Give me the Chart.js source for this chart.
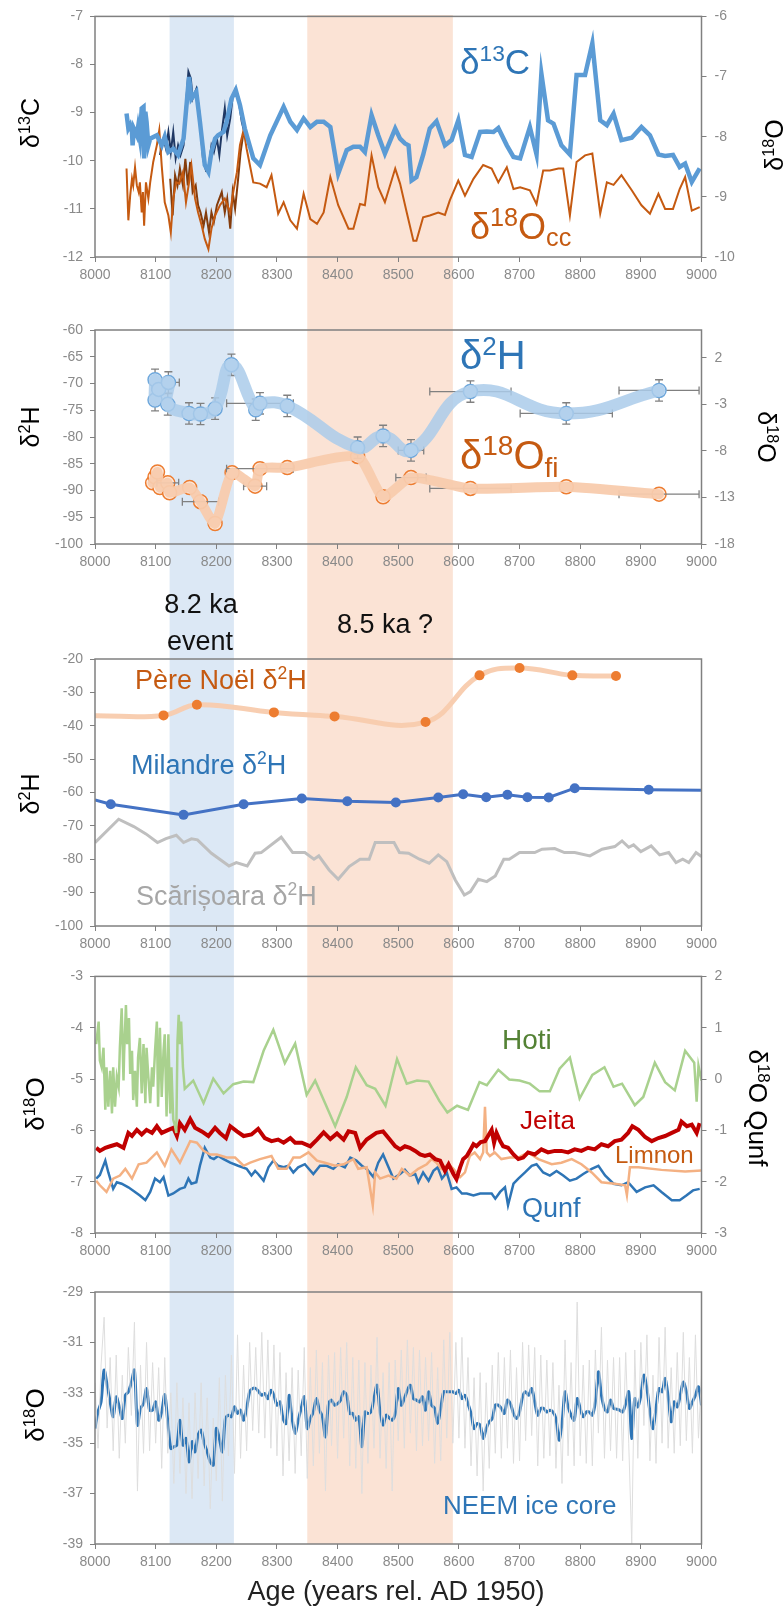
<!DOCTYPE html>
<html>
<head>
<meta charset="utf-8">
<script src="https://cdn.jsdelivr.net/npm/chart.js@4.4.0/dist/chart.umd.min.js"></script>
<style>
  body { margin: 0; background: #fff; }
  #wrap { position: relative; width: 783px; height: 1609px; }
  #wrap canvas { position: absolute; left: 0; }
</style>
</head>
<body>
<div id="wrap">
  <canvas id="c1" width="783" height="290" style="top:0px"></canvas>
  <canvas id="c2" width="783" height="290" style="top:290px"></canvas>
  <canvas id="c3" width="783" height="380" style="top:580px"></canvas>
  <canvas id="c4" width="783" height="310" style="top:960px"></canvas>
  <canvas id="c5" width="783" height="339" style="top:1270px"></canvas>
</div>
<script>
// Bandes 8.2 ka et 8.5 ka
const blueBand = [8123, 8229];
const orangeBand = [8350, 8590];

// Panneau 1 : δ13C et δ18O calcite
const c13Years = [8052, 8055, 8058, 8061, 8062, 8064, 8069, 8071, 8074, 8077, 8080, 8081, 8083, 8085, 8088, 8091, 8102, 8110, 8115, 8121, 8129, 8137, 8146, 8155, 8159, 8167, 8173, 8181, 8187, 8192, 8198, 8203, 8212, 8217, 8225, 8232, 8239, 8247, 8261, 8272, 8289, 8311, 8322, 8333, 8344, 8355, 8366, 8377, 8388, 8401, 8415, 8426, 8437, 8445, 8456, 8467, 8478, 8495, 8503, 8511, 8517, 8522, 8530, 8541, 8552, 8563, 8577, 8588, 8599, 8610, 8621, 8635, 8646, 8657, 8665, 8679, 8690, 8701, 8717, 8728, 8736, 8747, 8756, 8769, 8783, 8794, 8808, 8820, 8833, 8844, 8855, 8868, 8885, 8901, 8915, 8929, 8940, 8953, 8964, 8973, 8984, 8997];
const c13Vals = [-9.02, -9.33, -9.26, -9.40, -9.68, -9.33, -9.47, -9.30, -9.54, -8.91, -8.88, -9.95, -8.98, -9.19, -9.68, -9.54, -9.47, -9.68, -9.50, -9.82, -9.75, -9.88, -9.54, -8.26, -8.71, -8.57, -9.19, -10.09, -10.23, -9.82, -9.54, -9.47, -9.40, -9.19, -8.71, -8.53, -8.84, -9.33, -9.95, -10.09, -9.47, -8.88, -9.19, -9.36, -9.12, -9.30, -9.19, -9.19, -9.30, -10.27, -9.78, -9.71, -9.71, -9.82, -9.05, -9.47, -9.85, -9.33, -9.54, -9.64, -9.68, -10.41, -10.34, -9.88, -9.33, -9.18, -9.68, -9.57, -9.16, -9.88, -9.92, -9.40, -9.39, -9.40, -9.32, -9.68, -9.92, -9.95, -9.30, -9.87, -8.19, -9.16, -9.23, -9.68, -9.87, -8.22, -8.22, -7.56, -9.16, -9.26, -9.02, -9.57, -9.52, -9.30, -9.47, -9.87, -9.90, -9.88, -10.13, -10.06, -10.44, -10.16];

const c13HiYears = [8107, 8113, 8117, 8121, 8125, 8129, 8133, 8137, 8141, 8146, 8150, 8154, 8158, 8161, 8167, 8172, 8178, 8183, 8187, 8192, 8196, 8201, 8205, 8209, 8214, 8218, 8223, 8227, 8231, 8236, 8242, 8246];
const c13HiVals = [-9.88, -9.54, -9.75, -9.40, -9.82, -9.40, -9.95, -9.68, -9.88, -9.68, -8.84, -8.15, -8.29, -8.71, -8.51, -8.98, -9.95, -10.20, -10.16, -9.68, -9.82, -9.54, -9.88, -9.40, -8.91, -9.47, -9.12, -8.67, -8.53, -8.67, -9.19, -9.40];

const o18ccYears = [8052, 8055, 8058, 8061, 8063, 8066, 8069, 8072, 8074, 8077, 8079, 8081, 8084, 8088, 8091, 8096, 8102, 8106, 8110, 8115, 8121, 8125, 8129, 8134, 8139, 8145, 8150, 8156, 8159, 8165, 8170, 8176, 8181, 8187, 8192, 8198, 8206, 8214, 8223, 8228, 8234, 8239, 8245, 8250, 8261, 8272, 8283, 8291, 8302, 8311, 8322, 8333, 8344, 8355, 8366, 8377, 8388, 8401, 8418, 8426, 8437, 8445, 8456, 8467, 8478, 8495, 8503, 8514, 8525, 8530, 8541, 8552, 8566, 8577, 8585, 8599, 8610, 8624, 8640, 8654, 8665, 8679, 8690, 8701, 8717, 8728, 8739, 8750, 8764, 8772, 8783, 8794, 8808, 8820, 8833, 8844, 8855, 8868, 8885, 8901, 8915, 8929, 8940, 8953, 8964, 8973, 8984, 8997];
const o18ccVals = [-8.53, -9.39, -8.98, -8.70, -8.81, -8.51, -8.81, -8.92, -8.76, -9.26, -8.92, -9.48, -8.76, -9.03, -8.76, -8.42, -8.14, -7.89, -8.48, -9.09, -9.31, -9.59, -9.03, -8.76, -8.78, -8.59, -9.09, -8.70, -8.48, -9.03, -9.26, -9.48, -9.70, -9.87, -9.53, -9.31, -9.14, -9.03, -9.26, -8.92, -8.59, -8.14, -7.89, -8.20, -8.76, -8.78, -8.84, -8.64, -9.28, -9.09, -9.39, -9.53, -8.95, -9.37, -9.45, -9.26, -8.67, -9.14, -9.53, -9.53, -9.12, -9.14, -8.31, -8.84, -9.09, -8.53, -8.78, -9.26, -9.73, -9.73, -9.34, -9.31, -9.26, -9.30, -9.06, -8.73, -8.98, -8.70, -8.47, -8.53, -8.76, -8.51, -8.87, -8.84, -8.89, -9.12, -8.56, -8.56, -8.53, -8.53, -9.31, -8.42, -8.31, -8.28, -9.28, -8.76, -8.80, -8.64, -8.89, -9.14, -9.28, -8.95, -9.20, -9.20, -8.87, -8.67, -9.23, -9.17];

const o18HiYears = [8124, 8128, 8132, 8136, 8140, 8145, 8149, 8153, 8157, 8161, 8166, 8170, 8174, 8179, 8183, 8188, 8192, 8196, 8201, 8205, 8209, 8214, 8218, 8223, 8227, 8231, 8236, 8240, 8245];
const o18HiVals = [-8.70, -9.31, -8.64, -8.81, -8.53, -8.81, -8.37, -8.81, -8.42, -8.92, -8.81, -9.14, -9.26, -9.48, -9.26, -9.59, -9.26, -9.42, -9.14, -9.03, -8.92, -9.26, -9.03, -9.53, -8.92, -9.20, -8.70, -8.26, -7.92];

// Panneau 2 : inclusions fluides
const d2hYears = [8099, 8099, 8105, 8121, 8120, 8155, 8174, 8198, 8225, 8265, 8272, 8317, 8433, 8475, 8521, 8619, 8777, 8930];
const d2hVals = [-69.3, -73.1, -71.1, -69.8, -73.9, -75.6, -75.7, -74.7, -66.5, -74.9, -73.7, -74.2, -82.0, -79.8, -82.5, -71.5, -75.6, -71.3];
const d2hErr = [2, 2, 2, 2, 2, 2, 2, 2, 2, 2, 2, 2, 2, 2, 2, 2, 2, 2];
const d2hAgeErr = [0, 0, 0, 18, 0, 0, 0, 0, 0, 0, 55, 0, 0, 0, 21, 67, 76, 66];
const o18fiYears = [8095, 8099, 8103, 8107, 8120, 8123, 8156, 8174, 8198, 8226, 8264, 8272, 8317, 8433, 8475, 8521, 8619, 8777, 8930];
const o18fiVals = [-11.43, -10.79, -10.26, -11.93, -11.43, -12.49, -11.93, -13.45, -15.80, -10.33, -11.78, -9.90, -9.79, -8.59, -12.92, -10.86, -12.03, -11.85, -12.64];
const o18fiAgeErr = [0, 0, 0, 0, 18, 0, 0, 30, 0, 0, 19, 55, 0, 0, 0, 25, 67, 0, 66];
const fiRightTicks = [-18, -13, -8, -3, 2];

// Panneau 3 : δ2H des grottes
const pereYears = [8000, 8113, 8168, 8295, 8395, 8545, 8634, 8700, 8787, 8859];
const pereVals = [-37.0, -36.9, -33.7, -36.0, -37.2, -38.9, -24.9, -22.7, -24.9, -25.1];
const milYears = [8000, 8026, 8146, 8245, 8341, 8416, 8496, 8566, 8607, 8645, 8680, 8713, 8748, 8791, 8913, 9000];
const milVals = [-62.2, -63.5, -66.7, -63.5, -61.8, -62.6, -63.0, -61.5, -60.5, -61.4, -60.7, -61.4, -61.5, -58.7, -59.2, -59.3];
const scaYears = [8000, 8039, 8064, 8084, 8103, 8117, 8134, 8146, 8159, 8169, 8192, 8221, 8233, 8251, 8264, 8274, 8307, 8326, 8346, 8361, 8369, 8386, 8401, 8419, 8437, 8452, 8462, 8493, 8502, 8517, 8535, 8551, 8566, 8580, 8594, 8609, 8619, 8632, 8646, 8660, 8674, 8683, 8700, 8725, 8737, 8758, 8774, 8791, 8816, 8836, 8857, 8869, 8880, 8888, 8900, 8917, 8931, 8946, 8958, 8969, 8979, 8991, 9000];
const scaVals = [-75, -68, -70.2, -72.4, -75, -73.8, -72.8, -75, -73.9, -74.2, -78.2, -82, -81, -82, -78.2, -78, -73.4, -78, -78, -80, -79, -83.2, -86, -82.2, -80, -80, -75, -75, -78, -78.2, -80, -81.2, -78.7, -80.7, -86.2, -90.7, -89.7, -86, -86.7, -85, -80, -80, -78, -78, -77, -76.8, -78, -78, -79, -77, -76.2, -74.5, -76.4, -75.7, -77.7, -76, -78.7, -78, -81, -80, -81, -78, -79.2];

// Panneau 4 : δ18O Hoti, Jeita, Limnon, Qunf
const hotiYears = [8002, 8006, 8008, 8011, 8014, 8017, 8019, 8022, 8025, 8028, 8030, 8033, 8036, 8039, 8041, 8044, 8047, 8048, 8051, 8053, 8056, 8058, 8061, 8063, 8066, 8069, 8071, 8074, 8077, 8080, 8083, 8085, 8088, 8091, 8094, 8096, 8099, 8102, 8104, 8107, 8110, 8113, 8115, 8118, 8121, 8124, 8126, 8129, 8132, 8134, 8136, 8138, 8140, 8142, 8145, 8148, 8162, 8179, 8195, 8212, 8228, 8245, 8261, 8278, 8294, 8313, 8330, 8349, 8363, 8396, 8415, 8430, 8448, 8462, 8479, 8498, 8514, 8531, 8550, 8568, 8581, 8597, 8615, 8634, 8646, 8665, 8683, 8700, 8717, 8733, 8750, 8766, 8783, 8799, 8820, 8840, 8855, 8869, 8890, 8904, 8923, 8940, 8956, 8973, 8988, 8992, 8995, 9000];
const hotiVals = [-4.32, -3.88, -4.64, -4.77, -4.39, -5.60, -4.77, -5.54, -4.84, -5.67, -4.77, -5.54, -4.96, -5.15, -4.39, -3.62, -5.03, -4.52, -3.56, -4.32, -3.81, -4.90, -4.45, -5.41, -4.84, -5.54, -4.58, -4.20, -5.28, -4.32, -5.47, -4.39, -4.96, -5.47, -4.77, -5.15, -4.45, -3.88, -5.54, -4.00, -5.35, -4.45, -4.13, -5.73, -4.13, -5.67, -4.77, -5.79, -5.92, -6.05, -4.26, -3.75, -4.32, -3.88, -4.77, -5.19, -5.03, -5.47, -4.99, -5.28, -5.10, -5.05, -5.06, -4.45, -4.04, -4.69, -4.31, -5.31, -5.03, -5.92, -5.35, -4.77, -5.12, -5.19, -5.52, -4.61, -5.09, -5.03, -5.05, -5.43, -5.65, -5.52, -5.60, -5.06, -5.12, -4.82, -5.01, -5.03, -5.09, -5.24, -5.24, -4.80, -4.58, -5.38, -4.92, -4.77, -5.15, -5.09, -5.51, -5.35, -4.68, -5.06, -5.22, -4.45, -4.68, -5.44, -4.74, -5.03];
const jeitaYears = [8002, 8008, 8017, 8025, 8036, 8047, 8055, 8061, 8069, 8077, 8085, 8094, 8102, 8110, 8121, 8129, 8135, 8140, 8148, 8157, 8165, 8176, 8187, 8198, 8206, 8216, 8223, 8234, 8245, 8258, 8269, 8280, 8291, 8302, 8311, 8322, 8330, 8341, 8355, 8366, 8377, 8388, 8399, 8410, 8418, 8429, 8437, 8448, 8464, 8475, 8486, 8495, 8503, 8511, 8519, 8528, 8536, 8544, 8552, 8561, 8569, 8577, 8583, 8591, 8596, 8602, 8607, 8613, 8618, 8624, 8629, 8636, 8643, 8648, 8654, 8658, 8662, 8668, 8673, 8681, 8690, 8698, 8706, 8714, 8725, 8736, 8747, 8758, 8769, 8780, 8791, 8802, 8813, 8824, 8835, 8846, 8857, 8868, 8879, 8886, 8896, 8907, 8918, 8929, 8940, 8951, 8962, 8967, 8976, 8984, 8992, 8997];
const jeitaVals = [-6.34, -6.40, -6.34, -6.31, -6.27, -6.34, -6.05, -6.11, -5.99, -6.08, -5.99, -6.05, -5.92, -6.05, -5.99, -5.95, -6.11, -5.86, -5.99, -5.78, -5.95, -6.02, -6.11, -5.95, -6.05, -6.15, -5.92, -6.02, -6.11, -6.08, -5.97, -6.15, -6.21, -6.18, -6.24, -6.15, -6.24, -6.24, -6.31, -6.18, -6.04, -6.17, -6.06, -6.18, -6.02, -6.05, -6.34, -6.18, -6.05, -6.02, -6.18, -6.31, -6.37, -6.31, -6.34, -6.40, -6.47, -6.50, -6.47, -6.56, -6.59, -6.79, -6.66, -6.85, -6.95, -6.72, -6.56, -6.50, -6.40, -6.27, -6.31, -6.23, -6.21, -6.11, -5.99, -6.24, -6.05, -6.21, -6.31, -6.34, -6.47, -6.56, -6.53, -6.43, -6.47, -6.37, -6.43, -6.40, -6.40, -6.43, -6.37, -6.40, -6.34, -6.37, -6.27, -6.31, -6.21, -6.18, -6.05, -5.92, -5.99, -6.13, -6.21, -6.15, -6.11, -6.05, -5.99, -5.83, -5.92, -5.89, -6.05, -5.86];
const limnonYears = [8002, 8008, 8019, 8030, 8041, 8050, 8061, 8072, 8085, 8102, 8115, 8126, 8140, 8157, 8168, 8179, 8190, 8201, 8217, 8231, 8245, 8256, 8272, 8291, 8302, 8316, 8327, 8338, 8352, 8366, 8379, 8396, 8410, 8426, 8434, 8448, 8452, 8458, 8462, 8470, 8484, 8497, 8506, 8519, 8533, 8547, 8555, 8563, 8571, 8583, 8591, 8602, 8610, 8618, 8626, 8635, 8640, 8643, 8646, 8651, 8659, 8670, 8684, 8698, 8714, 8731, 8753, 8769, 8786, 8802, 8819, 8835, 8857, 8874, 8877, 8882, 8896, 8934, 8973, 9000];
const limnonVals = [-6.98, -7.07, -7.20, -6.94, -6.88, -6.75, -6.94, -6.66, -6.63, -6.43, -6.69, -6.37, -6.63, -6.21, -6.24, -6.40, -6.47, -6.47, -6.53, -6.53, -6.69, -6.63, -6.56, -6.50, -6.75, -6.75, -6.53, -6.53, -6.43, -6.59, -6.63, -6.69, -6.66, -6.56, -6.75, -6.72, -7.01, -7.46, -6.82, -6.94, -6.88, -6.94, -6.75, -6.88, -6.75, -6.66, -6.56, -6.63, -6.75, -6.66, -6.75, -6.91, -6.82, -6.50, -6.43, -6.56, -6.43, -5.54, -6.43, -6.50, -6.43, -6.56, -6.53, -6.53, -6.43, -6.56, -6.66, -6.63, -6.56, -6.66, -6.82, -7.01, -7.04, -7.07, -7.26, -6.72, -6.72, -6.77, -6.80, -6.78];
const qunfYears = [8002, 8008, 8017, 8022, 8030, 8036, 8044, 8055, 8066, 8074, 8083, 8091, 8099, 8107, 8113, 8121, 8129, 8140, 8148, 8154, 8159, 8167, 8173, 8181, 8190, 8196, 8203, 8212, 8223, 8236, 8250, 8258, 8264, 8269, 8278, 8286, 8294, 8302, 8311, 8319, 8327, 8335, 8346, 8360, 8371, 8382, 8393, 8401, 8412, 8421, 8431, 8440, 8448, 8459, 8467, 8475, 8484, 8492, 8503, 8511, 8519, 8528, 8533, 8541, 8550, 8558, 8565, 8572, 8580, 8588, 8596, 8605, 8613, 8624, 8635, 8646, 8654, 8660, 8668, 8676, 8681, 8690, 8698, 8709, 8720, 8728, 8739, 8750, 8761, 8772, 8783, 8794, 8805, 8819, 8830, 8841, 8855, 8868, 8879, 8893, 8907, 8921, 8934, 8951, 8964, 8975, 8986, 8997];
const qunfVals = [-1.94, -1.87, -1.59, -1.82, -2.14, -2.01, -2.04, -2.11, -2.20, -2.27, -2.36, -2.20, -1.94, -2.01, -1.91, -2.27, -2.23, -2.14, -2.11, -1.94, -2.04, -2.01, -1.69, -1.34, -1.53, -1.56, -1.50, -1.56, -1.63, -1.69, -1.75, -1.88, -1.79, -1.85, -1.98, -1.72, -1.59, -1.69, -1.72, -1.69, -1.82, -1.72, -1.66, -1.85, -1.69, -1.69, -1.75, -1.66, -1.72, -1.53, -1.59, -1.69, -1.75, -1.91, -1.63, -1.47, -1.72, -1.94, -1.85, -1.77, -1.88, -1.85, -2.01, -1.82, -1.98, -1.79, -1.72, -1.94, -1.82, -2.14, -2.11, -2.23, -2.23, -2.27, -2.23, -2.23, -2.23, -2.33, -2.20, -2.11, -2.46, -2.04, -1.94, -1.82, -1.69, -1.66, -1.82, -1.88, -1.79, -1.88, -1.98, -1.94, -1.85, -1.75, -1.69, -1.88, -2.04, -2.07, -2.01, -2.20, -2.11, -2.07, -2.20, -2.36, -2.36, -2.27, -2.17, -2.14];

// Panneau 5 : NEEM, pas de 5 ans à partir de 8000
const neemStart = 8000;
const neemStep = 5;
const neemSmooth = [-34.42, -33.76, -33.36, -32.10, -32.70, -33.36, -33.95, -33.16, -33.56, -34.02, -33.10, -32.96, -32.59, -32.10, -34.28, -33.62, -33.43, -32.83, -33.69, -33.69,
  -33.36, -34.09, -33.76, -33.07, -34.15, -35.21, -35.14, -35.08, -34.09, -35.08, -34.81, -35.74, -34.94, -35.34, -34.68, -34.48, -35.01, -35.34, -35.74, -35.87,
  -34.42, -34.81, -35.34, -34.02, -33.89, -33.95, -33.56, -33.82, -33.69, -34.09, -33.62, -32.96, -32.83, -32.83, -32.96, -33.10, -33.03, -33.23, -32.90, -33.10,
  -33.49, -33.36, -34.02, -34.22, -33.10, -34.02, -34.61, -34.09, -33.62, -33.16, -34.42, -34.02, -33.76, -33.23, -33.69, -33.95, -34.75, -33.43, -33.29, -33.49,
  -33.43, -33.29, -32.96, -33.10, -33.82, -33.82, -34.09, -33.95, -35.14, -33.76, -33.82, -33.76, -33.23, -32.70, -33.76, -34.28, -33.89, -33.99, -34.09, -33.82,
  -32.83, -33.49, -33.23, -32.90, -32.70, -33.23, -33.29, -33.36, -33.16, -33.69, -32.96, -33.49, -33.62, -34.22, -33.62, -32.96, -32.96, -32.96, -32.96, -33.03,
  -32.90, -33.23, -33.10, -33.43, -33.82, -34.42, -34.22, -34.28, -34.81, -34.42, -34.15, -34.02, -33.49, -33.49, -33.62, -33.82, -33.29, -33.43, -33.82, -34.02,
  -33.76, -33.16, -32.96, -33.10, -32.83, -33.36, -33.89, -33.62, -33.62, -33.76, -33.69, -33.76, -34.02, -34.88, -34.22, -32.96, -33.56, -33.89, -34.09, -33.23,
  -33.62, -33.95, -33.76, -33.76, -33.89, -33.36, -32.17, -33.10, -33.62, -33.76, -33.29, -33.62, -33.65, -33.69, -33.76, -33.43, -32.96, -34.81, -33.23, -33.56,
  -33.10, -32.30, -32.83, -33.76, -34.42, -33.62, -32.83, -32.96, -32.43, -33.16, -34.15, -33.36, -33.56, -33.10, -32.57, -32.96, -33.62, -33.36, -33.10, -32.76,
  -33.49];
const neemRaw = [-32.6, -35.2, -31.9, -30.0, -34.4, -31.6, -35.3, -31.5, -35.6, -32.3, -35.0, -31.2, -33.9, -30.2, -36.9, -31.9, -35.4, -31.0, -35.3, -31.8,
  -35.0, -32.0, -36.0, -31.6, -35.4, -33.0, -36.6, -32.6, -36.2, -33.2, -37.0, -33.4, -37.2, -33.0, -36.4, -32.6, -36.7, -33.2, -37.6, -34.0,
  -36.5, -32.4, -37.3, -32.3, -35.5, -31.5, -36.2, -30.7, -35.6, -31.9, -35.3, -31.0, -34.5, -31.2, -34.6, -30.6, -34.8, -30.9, -35.2, -31.1,
  -35.5, -31.4, -36.3, -32.2, -35.7, -32.0, -36.2, -32.1, -35.5, -31.2, -36.4, -32.0, -35.9, -31.3, -35.4, -31.8, -36.9, -31.5, -35.1, -31.4,
  -35.6, -31.2, -34.8, -31.0, -35.9, -31.6, -36.0, -31.7, -37.0, -31.8, -35.8, -31.9, -35.2, -30.8, -35.6, -32.2, -36.0, -31.8, -36.9, -31.7,
  -34.9, -31.3, -35.2, -30.9, -34.6, -31.2, -35.3, -31.3, -35.1, -31.6, -34.9, -31.4, -35.8, -32.0, -35.7, -30.9, -34.8, -30.6, -35.0, -31.0,
  -34.8, -30.8, -35.2, -31.6, -35.9, -32.4, -36.3, -32.2, -36.9, -32.6, -36.0, -31.9, -35.4, -31.4, -35.6, -31.6, -35.2, -31.3, -35.8, -32.0,
  -35.7, -31.0, -34.9, -31.1, -34.7, -31.2, -35.9, -31.5, -35.6, -31.7, -35.5, -31.8, -36.0, -32.7, -36.6, -30.9, -35.5, -31.8, -35.9, -29.4,
  -35.5, -31.9, -35.8, -31.7, -35.9, -31.3, -34.6, -30.4, -35.6, -31.7, -35.3, -31.6, -35.6, -31.6, -35.7, -31.4, -35.0, -39.0, -31.3, -35.6,
  -31.0, -34.3, -30.7, -35.7, -32.3, -35.8, -30.8, -35.0, -30.4, -35.2, -32.0, -35.4, -31.4, -35.1, -30.6, -34.9, -31.6, -35.4, -30.7, -34.8,
  -32.3];

const FONT = '"Liberation Sans", Arial, sans-serif';
const TICK = '#8a8a8a';
const AXIS = '#808080';
const LEFT_W = 95;
const RIGHT_W = 81.5;
const BAND_TOP = 15;
const BAND_BOTTOM = 1544;

Chart.defaults.font.family = FONT;

function pts(xs, ys) {
    return xs.map((x, i) => ({ x: x, y: ys[i] }));
}

function neemPts(vals) {
    return vals.map((v, i) => ({ x: neemStart + i * neemStep, y: v }));
}

// texte avec exposants / indices
function richText(ctx, t, top) {
    const size = t.size;
    const small = size * (t.small || 0.65);
    ctx.save();
    ctx.fillStyle = t.color || '#000';
    ctx.textBaseline = 'alphabetic';
    let w = 0;
    t.parts.forEach(p => {
        ctx.font = (p[1] ? small : size) + 'px ' + FONT;
        w += ctx.measureText(p[0]).width;
    });
    ctx.translate(t.x, t.y - top);
    if (t.rot) ctx.rotate(t.rot * Math.PI / 180);
    let cx = t.align === 'left' ? 0 : -w / 2;
    const base = size * 0.36;
    t.parts.forEach(p => {
        ctx.font = (p[1] ? small : size) + 'px ' + FONT;
        let dy = 0;
        if (p[1] === 'sup') dy = -size * 0.36;
        if (p[1] === 'sub') dy = size * 0.2;
        ctx.fillText(p[0], cx, base + dy);
        cx += ctx.measureText(p[0]).width;
    });
    ctx.restore();
}

const panelPlugin = {
    id: 'panel',
    beforeDraw(chart, args, opts) {
        const ctx = chart.ctx;
        const x = chart.scales.x;
        const y0 = Math.max(0, BAND_TOP - opts.top);
        const y1 = Math.min(chart.height, BAND_BOTTOM - opts.top);
        ctx.save();
        ctx.fillStyle = '#dce8f5';
        let a = x.getPixelForValue(blueBand[0]), b = x.getPixelForValue(blueBand[1]);
        ctx.fillRect(a, y0, b - a, y1 - y0);
        ctx.fillStyle = '#fbe3d5';
        a = x.getPixelForValue(orangeBand[0]);
        b = x.getPixelForValue(orangeBand[1]);
        ctx.fillRect(a, y0, b - a, y1 - y0);
        ctx.restore();
    },
    beforeDatasetDraw(chart, args, opts) {
        if (!opts.errorBars || args.index !== opts.errorBars.before) return;
        const ctx = chart.ctx;
        const area = chart.chartArea;
        const x = chart.scales.x;
        ctx.save();
        ctx.beginPath();
        ctx.rect(area.left, area.top - 10, area.right - area.left, area.bottom - area.top + 20);
        ctx.clip();
        ctx.strokeStyle = '#808080';
        ctx.lineWidth = 1.3;
        opts.errorBars.sets.forEach(s => {
            const y = chart.scales[s.axis];
            s.xs.forEach((xv, i) => {
                const px = x.getPixelForValue(xv);
                const py = y.getPixelForValue(s.ys[i]);
                ctx.beginPath();
                if (s.yErr && s.yErr[i]) {
                    const t = y.getPixelForValue(s.ys[i] + s.yErr[i]);
                    const bt = y.getPixelForValue(s.ys[i] - s.yErr[i]);
                    ctx.moveTo(px, t); ctx.lineTo(px, bt);
                    ctx.moveTo(px - 4, t); ctx.lineTo(px + 4, t);
                    ctx.moveTo(px - 4, bt); ctx.lineTo(px + 4, bt);
                }
                if (s.xErr && s.xErr[i]) {
                    const l = x.getPixelForValue(xv - s.xErr[i]);
                    const r = x.getPixelForValue(xv + s.xErr[i]);
                    ctx.moveTo(l, py); ctx.lineTo(r, py);
                    ctx.moveTo(l, py - 4); ctx.lineTo(l, py + 4);
                    ctx.moveTo(r, py - 4); ctx.lineTo(r, py + 4);
                }
                ctx.stroke();
            });
        });
        ctx.restore();
    },
    afterDraw(chart, args, opts) {
        const ctx = chart.ctx;
        const a = chart.chartArea;
        ctx.save();
        ctx.strokeStyle = AXIS;
        ctx.lineWidth = 1.5;
        ctx.strokeRect(a.left, a.top, a.right - a.left, a.bottom - a.top);
        ctx.restore();
        (opts.texts || []).forEach(t => richText(ctx, t, opts.top));
    }
};

function xScale(h) {
    return {
        type: 'linear', min: 8000, max: 9000,
        afterFit: s => { s.height = h; },
        ticks: { stepSize: 100, autoSkip: false, maxRotation: 0, color: TICK, font: { size: 14 }, padding: 5, callback: v => String(v) },
        grid: { drawOnChartArea: false, drawTicks: true, tickLength: 5, color: AXIS, tickColor: AXIS },
        border: { display: false }
    };
}

function yScale(pos, min, max, step, extra) {
    return Object.assign({
        position: pos, min: min, max: max,
        afterFit: s => { s.width = pos === 'left' ? LEFT_W : RIGHT_W; },
        ticks: { stepSize: step, color: TICK, font: { size: 14 }, padding: pos === 'left' ? 7 : 8, callback: v => String(v) },
        grid: { drawOnChartArea: false, drawTicks: true, tickLength: 5, color: AXIS, tickColor: AXIS },
        border: { display: false }
    }, extra || {});
}

function blankRight() {
    return {
        position: 'right', display: true,
        afterFit: s => { s.width = RIGHT_W; },
        ticks: { display: false }, grid: { display: false }, border: { display: false }
    };
}

function line(data, color, width, extra) {
    return Object.assign({
        data: data, borderColor: color, borderWidth: width, pointRadius: 0,
        fill: false, tension: 0, yAxisID: 'y'
    }, extra || {});
}

function makePanel(id, top, padTop, xh, scales, datasets, texts, errorBars) {
    return new Chart(document.getElementById(id), {
        type: 'line',
        data: { datasets: datasets },
        options: {
            responsive: false,
            animation: false,
            devicePixelRatio: 1,
            layout: { padding: { top: padTop, bottom: 0, left: 0, right: 0 } },
            scales: Object.assign({ x: xScale(xh) }, scales),
            plugins: {
                legend: { display: false },
                tooltip: { enabled: false },
                panel: { top: top, texts: texts, errorBars: errorBars }
            }
        },
        plugins: [panelPlugin]
    });
}

const BLUE_TXT = '#2e75b6';
const ORANGE_TXT = '#c55a11';

// Panneau 1
makePanel('c1', 0, 15, 33,
    { y: yScale('left', -12, -7, 1), y1: yScale('right', -10, -6, 1) },
    [
        line(pts(c13Years, c13Vals), '#5b9bd5', 4.5),
        line(pts(o18ccYears, o18ccVals), '#c55a11', 2, { yAxisID: 'y1' }),
        line(pts(c13HiYears, c13HiVals), '#1f3864', 2),
        line(pts(o18HiYears, o18HiVals), '#843c0c', 2, { yAxisID: 'y1' })
    ],
    [
        { parts: [['δ'], ['13', 'sup'], ['C']], x: 30, y: 123, size: 25, rot: -90 },
        { parts: [['δ'], ['18', 'sup'], ['O']], x: 774, y: 145, size: 25, rot: -90 },
        { parts: [['δ'], ['13', 'sup'], ['C']], x: 460, y: 61, size: 35, color: BLUE_TXT, align: 'left' },
        { parts: [['δ'], ['18', 'sup'], ['O'], ['cc', 'sub']], x: 470, y: 226, size: 36, small: 0.7, color: ORANGE_TXT, align: 'left' }
    ]);

// Panneau 2
makePanel('c2', 290, 40, 36,
    {
        y: yScale('left', -100, -60, 5),
        y1: yScale('right', -18, 5, 5, { afterBuildTicks: s => { s.ticks = fiRightTicks.map(v => ({ value: v })); } })
    },
    [
        line(pts(d2hYears, d2hVals), 'rgba(170,203,234,0.85)', 12, { tension: 0.45, borderCapStyle: 'round', borderJoinStyle: 'round' }),
        line(pts(o18fiYears, o18fiVals), 'rgba(248,203,173,0.95)', 10, { yAxisID: 'y1', tension: 0.2, borderCapStyle: 'round', borderJoinStyle: 'round' }),
        line(pts(d2hYears, d2hVals), '#5b9bd5', 0, { showLine: false, pointRadius: 7, pointBackgroundColor: '#e2eefa', pointBorderColor: '#6fa8dc', pointBorderWidth: 1.5 }),
        line(pts(o18fiYears, o18fiVals), '#ed7d31', 0, { yAxisID: 'y1', showLine: false, pointRadius: 7, pointBackgroundColor: '#fde9dc', pointBorderColor: '#ed7d31', pointBorderWidth: 1.5 })
    ],
    [
        { parts: [['δ'], ['2', 'sup'], ['H']], x: 30, y: 427, size: 25, rot: -90 },
        { parts: [['δ'], ['18', 'sup'], ['O']], x: 767, y: 437, size: 25, rot: 90 },
        { parts: [['δ'], ['2', 'sup'], ['H']], x: 460, y: 355, size: 40, color: BLUE_TXT, align: 'left' },
        { parts: [['δ'], ['18', 'sup'], ['O'], ['fi', 'sub']], x: 460, y: 455, size: 40, small: 0.7, color: ORANGE_TXT, align: 'left' }
    ],
    {
        before: 2,
        sets: [
            { axis: 'y', xs: d2hYears, ys: d2hVals, yErr: d2hErr, xErr: d2hAgeErr },
            { axis: 'y1', xs: o18fiYears, ys: o18fiVals, xErr: o18fiAgeErr }
        ]
    });

// Panneau 3
makePanel('c3', 580, 79, 34,
    { y: yScale('left', -100, -20, 10), y1: blankRight() },
    [
        line(pts(scaYears, scaVals), '#bfbfbf', 3),
        line(pts(pereYears, pereVals), 'rgba(248,203,173,0.95)', 5, {
            tension: 0.4, pointRadius: pereYears.map((v, i) => i === 0 ? 0 : 5),
            pointBackgroundColor: '#ed7d31', pointBorderColor: '#ed7d31', pointBorderWidth: 0
        }),
        line(pts(milYears, milVals), '#4472c4', 3, {
            pointRadius: milYears.map((v, i) => (i === 0 || i === milYears.length - 1) ? 0 : 5),
            pointBackgroundColor: '#4472c4', pointBorderColor: '#4472c4', pointBorderWidth: 0
        })
    ],
    [
        { parts: [['8.2 ka']], x: 201, y: 603, size: 27, color: '#111' },
        { parts: [['event']], x: 200, y: 640, size: 27, color: '#111' },
        { parts: [['8.5 ka ?']], x: 385, y: 623, size: 27, color: '#111' },
        { parts: [['δ'], ['2', 'sup'], ['H']], x: 30, y: 794, size: 25, rot: -90 },
        { parts: [['Père Noël δ'], ['2', 'sup'], ['H']], x: 135, y: 679, size: 27, color: ORANGE_TXT, align: 'left' },
        { parts: [['Milandre δ'], ['2', 'sup'], ['H']], x: 131, y: 764, size: 27, color: BLUE_TXT, align: 'left' },
        { parts: [['Scărișoara δ'], ['2', 'sup'], ['H']], x: 136, y: 895, size: 27, color: '#a6a6a6', align: 'left' }
    ]);

// Panneau 4
makePanel('c4', 960, 13, 37,
    { y: yScale('left', -8, -3, 1), y1: yScale('right', -3, 2, 1) },
    [
        line(pts(hotiYears, hotiVals), '#a9d18e', 2.5),
        line(pts(jeitaYears, jeitaVals), '#c00000', 4),
        line(pts(limnonYears, limnonVals), '#f4b183', 2.5),
        line(pts(qunfYears, qunfVals), '#2e75b6', 2.5, { yAxisID: 'y1' })
    ],
    [
        { parts: [['δ'], ['18', 'sup'], ['O']], x: 35, y: 1104, size: 26, rot: -90 },
        { parts: [['δ'], ['18', 'sup'], ['O Qunf']], x: 758, y: 1108, size: 26, rot: 90 },
        { parts: [['Hoti']], x: 502, y: 1039, size: 28, color: '#548235', align: 'left' },
        { parts: [['Jeita']], x: 520, y: 1120, size: 26, color: '#c00000', align: 'left' },
        { parts: [['Limnon']], x: 615, y: 1154, size: 24, color: ORANGE_TXT, align: 'left' },
        { parts: [['Qunf']], x: 522, y: 1207, size: 27, color: BLUE_TXT, align: 'left' }
    ]);

// Panneau 5
makePanel('c5', 1270, 22, 65,
    { y: yScale('left', -39, -29, 2), y1: blankRight() },
    [
        line(neemPts(neemRaw), '#dedede', 1),
        line(neemPts(neemSmooth), '#2e75b6', 3, { tension: 0.3 })
    ],
    [
        { parts: [['δ'], ['18', 'sup'], ['O']], x: 35, y: 1415, size: 26, rot: -90 },
        { parts: [['NEEM ice core']], x: 443, y: 1505, size: 26, color: BLUE_TXT, align: 'left' },
        { parts: [['Age (years rel. AD 1950)']], x: 396, y: 1590, size: 27, color: '#222' }
    ]);
</script>
</body>
</html>
